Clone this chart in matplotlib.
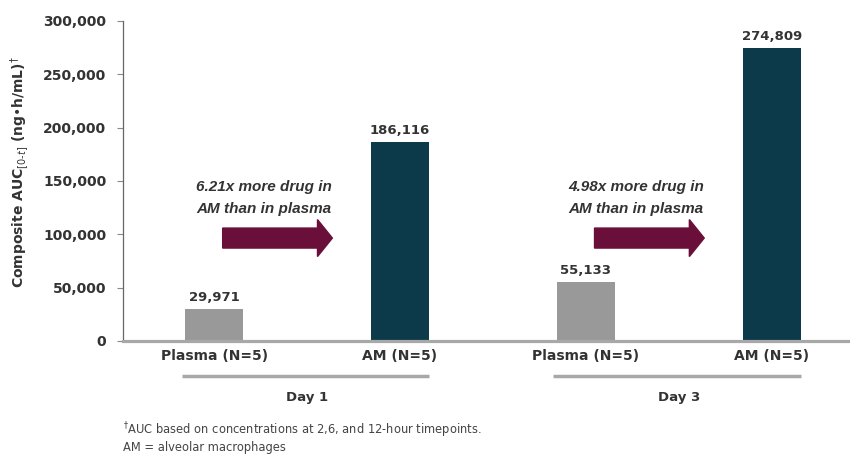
import matplotlib
matplotlib.use("Agg")
import matplotlib.pyplot as plt
from matplotlib.patches import FancyArrow

plt.rcParams['font.family'] = ['DejaVu Sans']

categories = ["Plasma (N=5)", "AM (N=5)", "Plasma (N=5)", "AM (N=5)"]
values = [29971, 186116, 55133, 274809]
value_labels = ["29,971", "186,116", "55,133", "274,809"]
groups = ["Day 1", "Day 3"]
ratio_texts = ["6.21x more drug in\nAM than in plasma", "4.98x more drug in\nAM than in plasma"]
yticks = [0, 50000, 100000, 150000, 200000, 250000, 300000]
ytick_labels = ["0", "50,000", "100,000", "150,000", "200,000", "250,000", "300,000"]

colors = ["#999999", "#0c3a4a", "#999999", "#0c3a4a"]
txt = "#333333"

W, H = 850, 457
fig = plt.figure(figsize=(W / 100, H / 100), dpi=100)
ax = fig.add_axes([123 / W, 1 - 341 / H, (850 - 123) / W, 320 / H])
axw = 850 - 123

x = list(range(len(categories)))
ax.bar(x, values, width=0.31, color=colors, zorder=2)
ax.set_xlim(-0.49, 3.42)
ax.set_ylim(0, 300000)

for xi, v, lab in zip(x, values, value_labels):
    ax.text(xi, v + 5000, lab, ha="center", va="bottom", fontsize=9.5,
            fontweight="bold", color=txt)

ax.set_yticks(yticks)
ax.set_yticklabels(ytick_labels, fontsize=10, fontweight="bold", color=txt)
ax.tick_params(axis="y", length=4, width=0.8, color="#888888", pad=8)
ax.set_xticks(x)
ax.set_xticklabels(categories, fontsize=10, fontweight="bold", color=txt)
ax.tick_params(axis="x", length=0, pad=6)

for s in ["top", "right"]:
    ax.spines[s].set_visible(False)
ax.spines["left"].set_color("#666666")
ax.spines["left"].set_linewidth(0.9)
ax.spines["bottom"].set_color("#a8a8a8")
ax.spines["bottom"].set_linewidth(2.3)

ax.set_ylabel("Composite AUC$_{[0\\text{-}t]}$ (ng\u2022h/mL)$^{\\dagger}$",
              fontsize=10, fontweight="bold", color=txt)
ax.yaxis.set_label_coords((31 - 123) / axw, 0.528)

# group lines and labels
trans = ax.get_xaxis_transform()
for gi, g in enumerate(groups):
    a, b = x[2 * gi], x[2 * gi + 1]
    ax.plot([a - 0.175, b + 0.155], [-0.11, -0.11], transform=trans, color="#a8a8a8",
            lw=2.5, clip_on=False, solid_capstyle="butt")
    ax.text((a + b) / 2, -0.155, g, transform=trans, ha="center", va="top",
            fontsize=9.5, fontweight="bold", color=txt)

# arrows and ratio annotations
arrow_color = "#6a0f3a"
for gi, t in enumerate(ratio_texts):
    a = x[2 * gi]
    ax.text(a - 0.095, 151000, t, ha="left", va="top", fontsize=11,
            family=["Liberation Sans", "DejaVu Sans"],
            fontweight="bold", fontstyle="italic", color=txt, linespacing=1.7)
    arr = FancyArrow(a + 0.046, 96500, 0.59, 0, width=18750, head_width=34700,
                     head_length=0.08, length_includes_head=True,
                     color=arrow_color, zorder=3)
    ax.add_patch(arr)

fig.text(123 / W, 1 - 430 / H, "$^{\\dagger}$AUC based on concentrations at 2,6, and 12-hour timepoints.",
         fontsize=8.3, color="#444444", va="center")
fig.text(123 / W, 1 - 448 / H, "AM = alveolar macrophages", fontsize=8.3,
         color="#444444", va="center")

fig.savefig("out.png", dpi=100)
